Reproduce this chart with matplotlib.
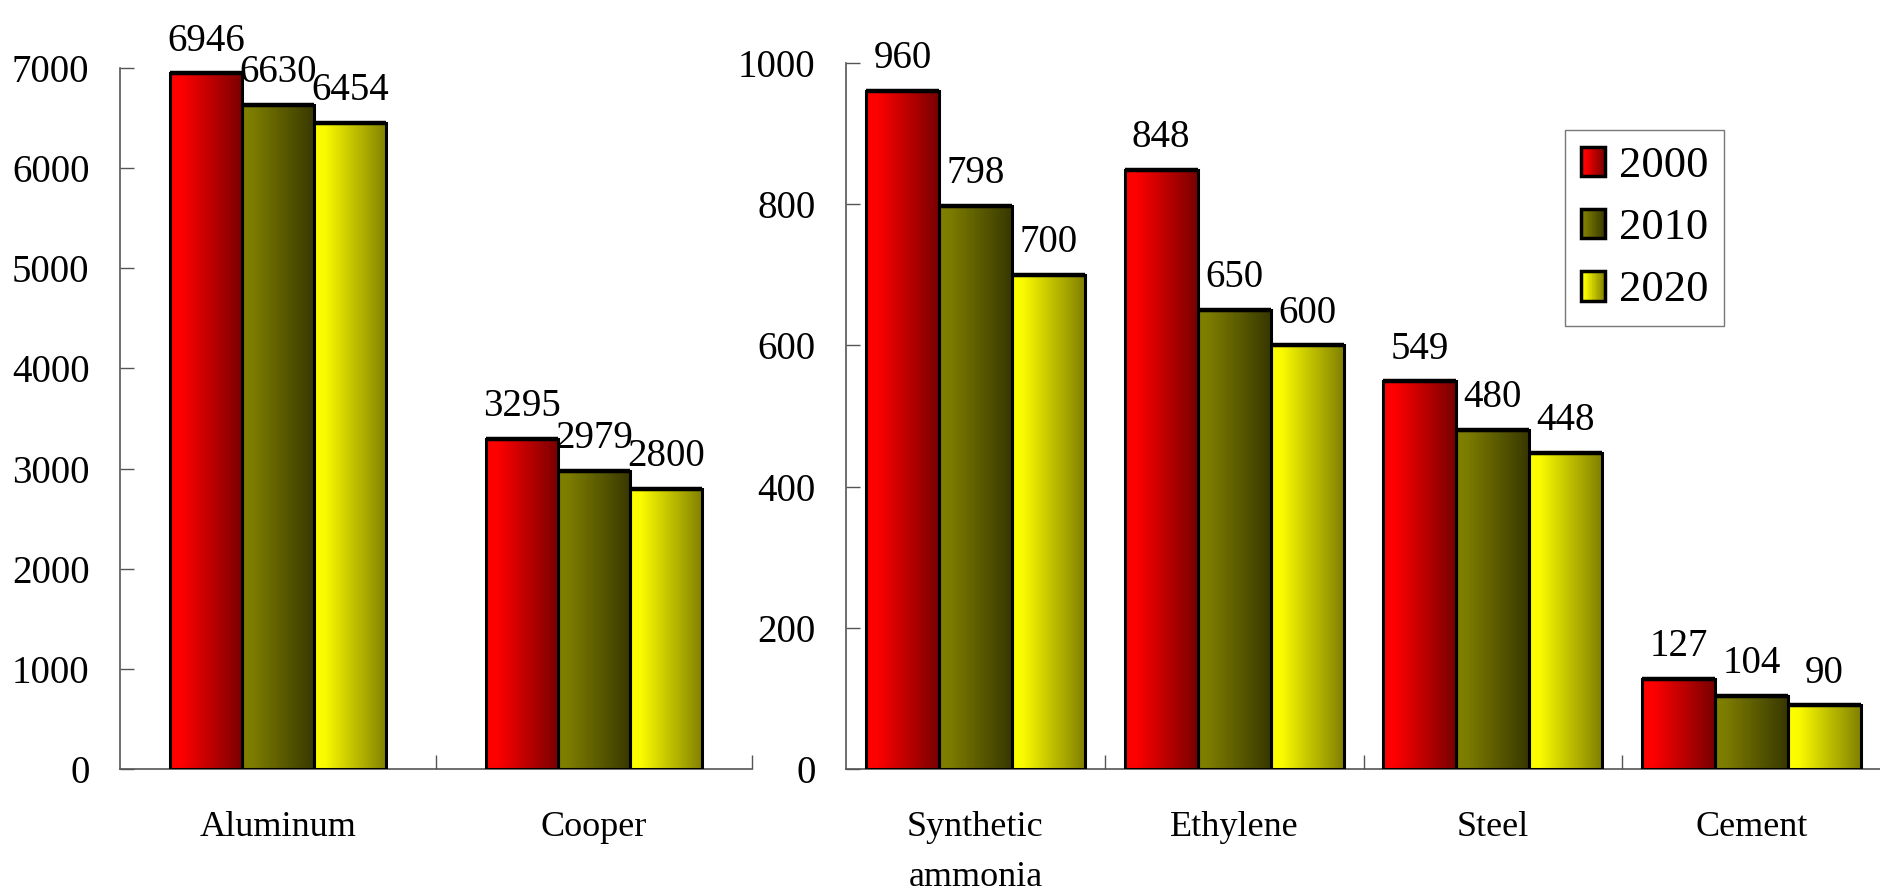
import matplotlib
matplotlib.use("Agg")
import matplotlib.pyplot as plt
import numpy as np
from matplotlib.colors import LinearSegmentedColormap
from matplotlib.legend_handler import HandlerBase
from matplotlib.patches import Rectangle

plt.rcParams['font.family'] = ['Liberation Serif', 'DejaVu Serif']

# ---- data ----
years = ['2000', '2010', '2020']
metals = ['Aluminum', 'Cooper']
metal_2000 = [6946, 3295]
metal_2010 = [6630, 2979]
metal_2020 = [6454, 2800]

chems = ['Synthetic\nammonia', 'Ethylene', 'Steel', 'Cement']
chem_2000 = [960, 848, 549, 127]
chem_2010 = [798, 650, 480, 104]
chem_2020 = [700, 600, 448, 90]

# left-to-right shading of each series
gradients = [
    [(0.0, '#ff0000'), (0.15, '#ff0000'), (1.0, '#780000')],
    [(0.0, '#808000'), (0.15, '#7c7c00'), (1.0, '#383800')],
    [(0.0, '#ffff00'), (0.15, '#fafa00'), (1.0, '#808000')],
]
cmaps = [LinearSegmentedColormap.from_list('g%d' % i, g) for i, g in enumerate(gradients)]
grad_img = np.linspace(0, 1, 256).reshape(1, -1)

W, H = 1881, 893
fig = plt.figure(figsize=(W / 100, H / 100), dpi=100)

FS = 28


def gradient_bars(ax, cats, series, width, ymax, ystep):
    x = np.arange(len(cats))
    for si, vals in enumerate(series):
        offs = (si - 1) * width
        for xi, v in zip(x, vals):
            x0 = xi + offs - width / 2
            ax.imshow(grad_img, extent=[x0, x0 + width, 0, v], aspect='auto',
                      cmap=cmaps[si], interpolation='bilinear', zorder=2)
            ax.bar(xi + offs, v, width=width, fill=False, edgecolor='black',
                   linewidth=2.2, zorder=3)
            ax.plot([x0, x0 + width], [v, v], color='black', lw=3.2,
                    solid_capstyle='butt', zorder=4)
            ax.annotate(str(v), (xi + offs, v), xytext=(0, 10),
                        textcoords='offset points', ha='center', va='bottom',
                        fontsize=FS, zorder=5)
    ax.set_xlim(-0.5, len(cats) - 0.5)
    ax.set_ylim(0, ymax)
    ax.set_yticks(np.arange(0, ymax + 1, ystep))
    ax.set_xticks(x)
    ax.set_xticklabels(cats, fontsize=26, linespacing=1.7)
    ax.set_xticks(np.arange(len(cats)) + 0.5, minor=True)
    ax.tick_params(axis='x', which='major', length=0, pad=30)
    ax.tick_params(axis='x', which='minor', direction='in', length=10,
                   width=1, color='#555555')
    ax.tick_params(axis='y', direction='in', length=10, width=1,
                   color='#555555', labelsize=FS, pad=22)
    for s in ('top', 'right'):
        ax.spines[s].set_visible(False)
    for s in ('left', 'bottom'):
        ax.spines[s].set_color('#555555')
        ax.spines[s].set_linewidth(1.2)


ax1 = fig.add_axes([120 / W, 124 / H, 632 / W, 701 / H])
gradient_bars(ax1, metals, [metal_2000, metal_2010, metal_2020], 0.228, 7000, 1000)

ax2 = fig.add_axes([846 / W, 124 / H, 1035 / W, 706 / H])
gradient_bars(ax2, chems, [chem_2000, chem_2010, chem_2020], 0.282, 1000, 200)


class GradientHandler(HandlerBase):
    def __init__(self, cmap):
        super().__init__()
        self.cmap = cmap

    def create_artists(self, legend, orig_handle, xdescent, ydescent,
                       width, height, fontsize, trans):
        arts = []
        n = 30
        for i in range(n):
            arts.append(Rectangle((-xdescent + i * width / n, -ydescent),
                                  width / n * 1.08, height,
                                  facecolor=self.cmap(i / (n - 1)),
                                  edgecolor='none', transform=trans))
        arts.append(Rectangle((-xdescent, -ydescent), width, height,
                              fill=False, edgecolor='black', linewidth=2.5,
                              transform=trans))
        return arts


handles = [Rectangle((0, 0), 1, 1) for _ in years]
leg = fig.legend(handles, years, loc='upper left',
                 bbox_to_anchor=(1565 / W, 1 - 130 / H),
                 handler_map={h: GradientHandler(c) for h, c in zip(handles, cmaps)},
                 fontsize=32, handlelength=0.55, handleheight=0.65,
                 handletextpad=0.3, borderpad=0.36, labelspacing=0.5,
                 fancybox=False, frameon=True, borderaxespad=0)
leg.get_frame().set_edgecolor('#555555')
leg.get_frame().set_linewidth(1.0)

fig.savefig('out.png', dpi=100)
